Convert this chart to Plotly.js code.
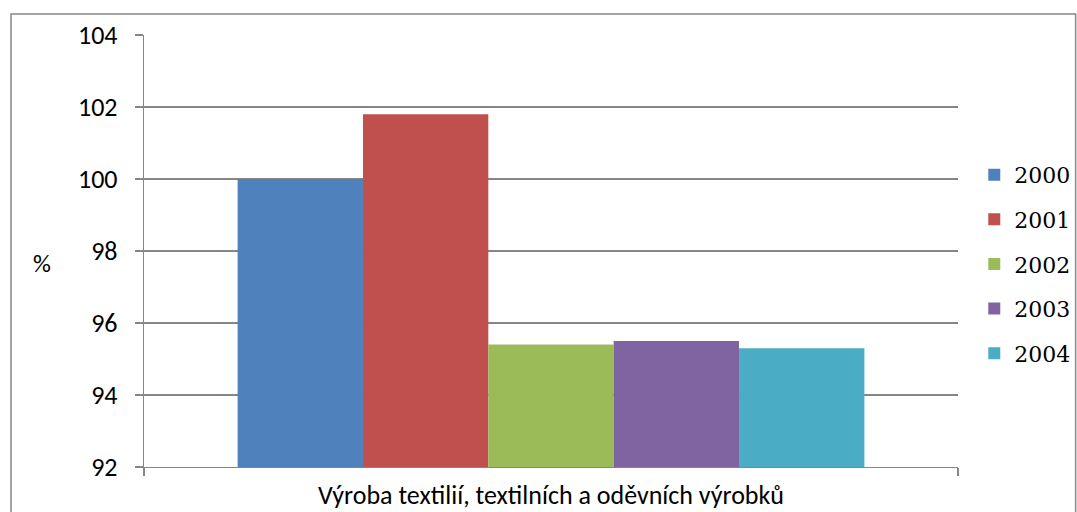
<!DOCTYPE html>
<html><head><meta charset="utf-8">
<script src="https://cdn.plot.ly/plotly-3.0.1.min.js"></script>
<style>html,body{margin:0;padding:0;background:#fff}#c{width:1077px;height:512px}</style>
</head><body><div id="c"></div>
<script>
const category = ["Výroba textilií, textilních a oděvních výrobků"];
const years = ["2000", "2001", "2002", "2003", "2004"];
const values = [100.0, 101.8, 95.4, 95.5, 95.3];
const colors = ["#4F81BD", "#C0504D", "#9BBB59", "#8064A2", "#4BACC6"];
const yTicks = [92, 94, 96, 98, 100, 102, 104];

const traces = years.map((y, i) => ({
  type: "bar", name: y, x: category, y: [values[i] - 92], base: 92,
  marker: {color: colors[i]}, legendgroup: "g" + i, hoverinfo: "skip"
}));

const sans = "Carlito, Liberation Sans, Arial, sans-serif";
const serif = "DejaVu Serif, Liberation Serif, serif";
const layout = {
  width: 1077, height: 512,
  margin: {l: 144, r: 119, t: 35, b: 45, pad: 0, autoexpand: false},
  paper_bgcolor: "#fff", plot_bgcolor: "#fff",
  barmode: "group", bargap: 0.23, bargroupgap: 0,
  font: {family: serif, size: 22, color: "#000"},
  xaxis: {
    showgrid: false, showline: true, linecolor: "#868686", linewidth: 1.3,
    ticks: "outside", tickson: "boundaries", ticklen: 8, tickcolor: "#868686", tickwidth: 1.3,
    tickfont: {family: sans, size: 26, color: "#000"}, ticklabelstandoff: 4, automargin: false
  },
  yaxis: {
    range: [92, 104], tickvals: yTicks, ticktext: yTicks.map(String),
    showgrid: true, gridcolor: "#868686", gridwidth: 1.3,
    showline: true, linecolor: "#868686", linewidth: 1.3,
    ticks: "outside", ticklen: 8, tickcolor: "#868686", tickwidth: 1.3,
    tickfont: {family: sans, size: 26, color: "#000"}, ticklabelstandoff: 12, zeroline: false, automargin: false
  },
  showlegend: true,
  legend: {
    x: 1.02, xanchor: "left", y: 0.47, yanchor: "middle",
    font: {family: serif, size: 22, color: "#000"},
    tracegroupgap: 13, itemwidth: 30, bgcolor: "rgba(0,0,0,0)"
  },
  annotations: [{
    text: "%", xref: "paper", yref: "paper", x: -0.125, y: 0.47,
    showarrow: false, font: {family: sans, size: 25, color: "#000"}, xanchor: "center", yanchor: "middle"
  }],
  shapes: [{
    type: "rect", xref: "paper", yref: "paper",
    x0: -0.1634, x1: 1.1445, y0: -0.3, y1: 1.0487,
    line: {color: "#878787", width: 1.5}, fillcolor: "rgba(0,0,0,0)", layer: "below"
  }]
};

Plotly.newPlot("c", traces, layout, {displayModeBar: false, staticPlot: true});
</script></body></html>
